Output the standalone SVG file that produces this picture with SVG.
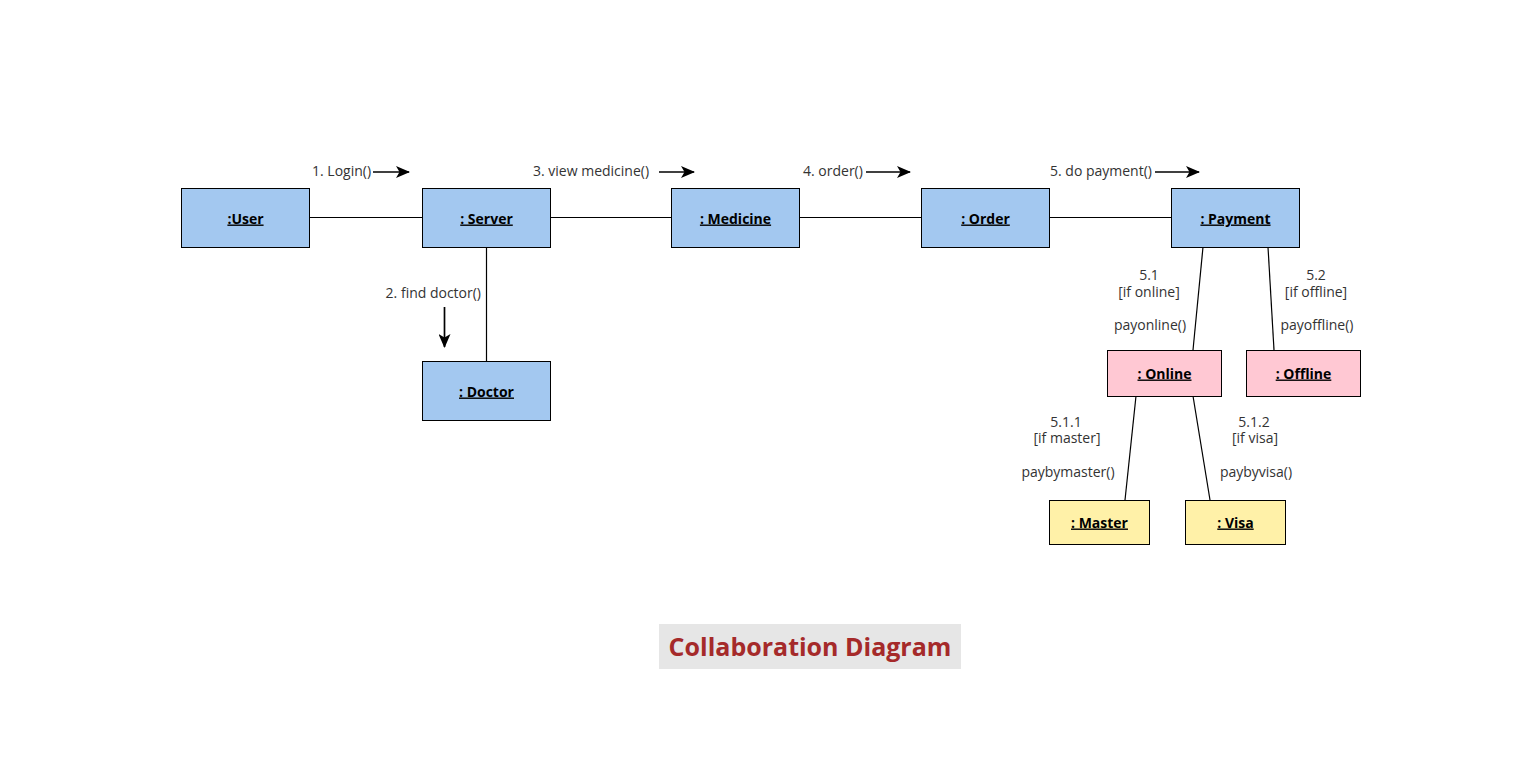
<svg xmlns="http://www.w3.org/2000/svg" width="1515" height="760" viewBox="0 0 1515 760">
<style>
.n{stroke:#000;stroke-width:1}
.blue{fill:#a3c8f0}
.pink{fill:#ffc8d3}
.yel{fill:#fff1a8}
.nt{font-family:"Open Sans","Noto Sans",sans-serif;font-size:14px;font-weight:bold;text-decoration:underline;text-anchor:middle;fill:#000}
.lb{font-family:"Open Sans","Noto Sans",sans-serif;font-size:14px;fill:#333}
.c{text-anchor:middle}
.ln{stroke:#000;stroke-width:1.2;fill:none}
.ar{stroke:#000;stroke-width:1.7;fill:none}
</style>
<defs>
<marker id="ah" markerWidth="14" markerHeight="12" refX="13" refY="6" orient="auto" markerUnits="userSpaceOnUse">
<path d="M0,0 L14,6 L0,12 L3.5,6 Z" fill="#000"/>
</marker>
</defs>
<rect width="1515" height="760" fill="#fff"/>
<g id="connectors">
<line class="ln" x1="309" y1="217.5" x2="422" y2="217.5"/>
<line class="ln" x1="550" y1="217.5" x2="671" y2="217.5"/>
<line class="ln" x1="799" y1="217.5" x2="921" y2="217.5"/>
<line class="ln" x1="1049" y1="217.5" x2="1171" y2="217.5"/>
<line class="ln" x1="486.5" y1="247" x2="486.5" y2="361"/>
<line class="ln" x1="1203" y1="247" x2="1193" y2="350"/>
<line class="ln" x1="1268" y1="247" x2="1274" y2="350"/>
<line class="ln" x1="1136" y1="396" x2="1125" y2="500"/>
<line class="ln" x1="1193" y1="396" x2="1210" y2="500"/>
<line class="ar" x1="373" y1="172" x2="409" y2="172" marker-end="url(#ah)"/>
<line class="ar" x1="659" y1="172" x2="694" y2="172" marker-end="url(#ah)"/>
<line class="ar" x1="866" y1="172" x2="910" y2="172" marker-end="url(#ah)"/>
<line class="ar" x1="1155" y1="172" x2="1199" y2="172" marker-end="url(#ah)"/>
<line class="ar" x1="444.5" y1="307" x2="444.5" y2="347" marker-end="url(#ah)"/>
</g>
<g id="labels">
<text class="lb" x="312" y="176">1. Login()</text>
<text class="lb" x="481" y="298" text-anchor="end">2. find doctor()</text>
<text class="lb" x="533" y="176">3. view medicine()</text>
<text class="lb" x="803" y="176">4. order()</text>
<text class="lb" x="1050" y="176">5. do payment()</text>
<text class="lb c" x="1149" y="280">5.1</text>
<text class="lb c" x="1149" y="297">[if online]</text>
<text class="lb c" x="1150" y="330">payonline()</text>
<text class="lb c" x="1316" y="280">5.2</text>
<text class="lb c" x="1316" y="297">[if offline]</text>
<text class="lb c" x="1317" y="330">payoffline()</text>
<text class="lb c" x="1066" y="427">5.1.1</text>
<text class="lb c" x="1067" y="443">[if master]</text>
<text class="lb c" x="1068" y="477">paybymaster()</text>
<text class="lb c" x="1254" y="427">5.1.2</text>
<text class="lb c" x="1255" y="443">[if visa]</text>
<text class="lb c" x="1256" y="477">paybyvisa()</text>
</g>
<g id="user"><rect class="n blue" x="181.5" y="188.5" width="128" height="59"/><text class="nt" x="245.5" y="223.5">:User</text></g>
<g id="server"><rect class="n blue" x="422.5" y="188.5" width="128" height="59"/><text class="nt" x="486.5" y="223.5">: Server</text></g>
<g id="medicine"><rect class="n blue" x="671.5" y="188.5" width="128" height="59"/><text class="nt" x="735.5" y="223.5">: Medicine</text></g>
<g id="order"><rect class="n blue" x="921.5" y="188.5" width="128" height="59"/><text class="nt" x="985.5" y="223.5">: Order</text></g>
<g id="payment"><rect class="n blue" x="1171.5" y="188.5" width="128" height="59"/><text class="nt" x="1235.5" y="223.5">: Payment</text></g>
<g id="doctor"><rect class="n blue" x="422.5" y="361.5" width="128" height="59"/><text class="nt" x="486.5" y="396.5">: Doctor</text></g>
<g id="online"><rect class="n pink" x="1107.5" y="350.5" width="114" height="46"/><text class="nt" x="1164.5" y="378.5">: Online</text></g>
<g id="offline"><rect class="n pink" x="1246.5" y="350.5" width="114" height="46"/><text class="nt" x="1303.5" y="378.5">: Offline</text></g>
<g id="master"><rect class="n yel" x="1049.5" y="500.5" width="100" height="44"/><text class="nt" x="1099.5" y="527.5">: Master</text></g>
<g id="visa"><rect class="n yel" x="1185.5" y="500.5" width="100" height="44"/><text class="nt" x="1235.5" y="527.5">: Visa</text></g>
<g id="title"><rect x="659" y="624" width="302" height="45" fill="#e6e6e6"/><text x="810" y="655.5" text-anchor="middle" font-family="'Open Sans','Noto Sans',sans-serif" font-size="25" font-weight="bold" fill="#a52a2a">Collaboration Diagram</text></g>
</svg>
